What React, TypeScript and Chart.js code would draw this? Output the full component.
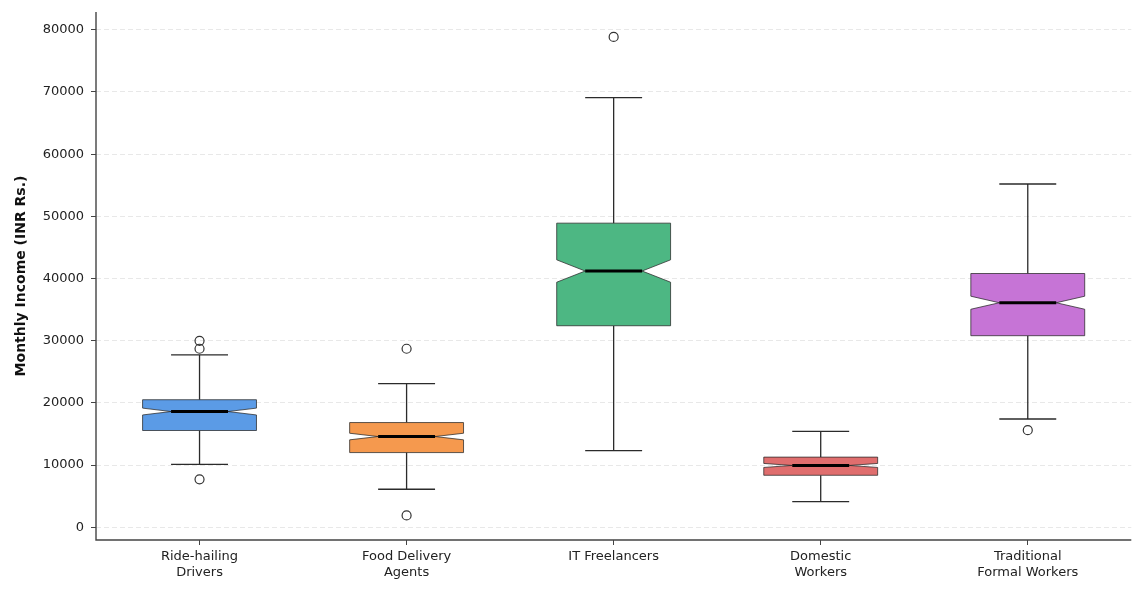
import React, { useEffect, useRef } from 'react';
import { Chart, registerables } from 'chart.js';
Chart.register(...registerables);

const categoryLines: string[][] = [
  ['Ride-hailing', 'Drivers'],
  ['Food Delivery', 'Agents'],
  ['IT Freelancers'],
  ['Domestic', 'Workers'],
  ['Traditional', 'Formal Workers'],
];
const categoryKeys = ['Ride-hailing Drivers', 'Food Delivery Agents', 'IT Freelancers', 'Domestic Workers', 'Traditional Formal Workers'];
const whiskerLow = [10100, 6100, 12300, 4100, 17400];
const q1 = [15550, 12000, 32400, 8350, 30800];
const median = [18600, 14580, 41200, 9930, 36100];
const q3 = [20500, 16830, 48900, 11270, 40800];
const whiskerHigh = [27700, 23100, 69100, 15400, 55200];
const notchLow = [18050, 14050, 39400, 9610, 35050];
const notchHigh = [19150, 15110, 43000, 10250, 37150];
const boxColors = ['#5B9BE6', '#F5994E', '#4DB783', '#E06E6E', '#C674D6'];
const outlierCategory = [0, 0, 0, 1, 1, 2, 4];
const outlierValue = [29970, 28700, 7700, 28700, 1900, 78850, 15600];
const yTicks = [0, 10000, 20000, 30000, 40000, 50000, 60000, 70000, 80000];
const yMin = -2060;
const yMax = 82860;
const boxWidthFraction = 0.55;

const boxPlugin = {
  id: 'notchedBoxes',
  beforeDatasetsDraw(chart: any) {
    const ctx = chart.ctx;
    const xs = chart.scales.x;
    const ys = chart.scales.y;
    const step = xs.getPixelForValue(1) - xs.getPixelForValue(0);
    const hw = (step * boxWidthFraction) / 2;
    const nw = hw / 2;
    ctx.save();
    for (let i = 0; i < categoryKeys.length; i++) {
      const x = xs.getPixelForValue(i);
      const py = (v: number) => ys.getPixelForValue(v);
      ctx.strokeStyle = '#2b2b2b';
      ctx.lineWidth = 1.3;
      ctx.beginPath();
      ctx.moveTo(x, py(q1[i]));
      ctx.lineTo(x, py(whiskerLow[i]));
      ctx.moveTo(x, py(q3[i]));
      ctx.lineTo(x, py(whiskerHigh[i]));
      ctx.moveTo(x - hw / 2, py(whiskerLow[i]));
      ctx.lineTo(x + hw / 2, py(whiskerLow[i]));
      ctx.moveTo(x - hw / 2, py(whiskerHigh[i]));
      ctx.lineTo(x + hw / 2, py(whiskerHigh[i]));
      ctx.stroke();
      const l = x - hw;
      const r = x + hw;
      ctx.beginPath();
      ctx.moveTo(l, py(q1[i]));
      ctx.lineTo(r, py(q1[i]));
      ctx.lineTo(r, py(notchLow[i]));
      ctx.lineTo(x + nw, py(median[i]));
      ctx.lineTo(r, py(notchHigh[i]));
      ctx.lineTo(r, py(q3[i]));
      ctx.lineTo(l, py(q3[i]));
      ctx.lineTo(l, py(notchHigh[i]));
      ctx.lineTo(x - nw, py(median[i]));
      ctx.lineTo(l, py(notchLow[i]));
      ctx.closePath();
      ctx.fillStyle = boxColors[i];
      ctx.fill();
      ctx.strokeStyle = 'rgba(40,40,40,0.75)';
      ctx.lineWidth = 1;
      ctx.stroke();
      ctx.strokeStyle = '#000';
      ctx.lineWidth = 3;
      ctx.beginPath();
      ctx.moveTo(x - nw, py(median[i]));
      ctx.lineTo(x + nw, py(median[i]));
      ctx.stroke();
    }
    ctx.restore();
  },
  afterDraw(chart: any) {
    const ctx = chart.ctx;
    const a = chart.chartArea;
    ctx.save();
    ctx.strokeStyle = '#444';
    ctx.lineWidth = 1.4;
    ctx.beginPath();
    ctx.moveTo(a.left, a.top);
    ctx.lineTo(a.left, a.bottom);
    ctx.lineTo(a.right, a.bottom);
    ctx.stroke();
    ctx.restore();
  },
};

export default function App() {
  const ref = useRef<HTMLCanvasElement>(null);
  useEffect(() => {
    if (!ref.current) return;
    const chart = new Chart(ref.current, {
      type: 'scatter',
      data: {
        labels: categoryKeys,
        datasets: [
          {
            data: outlierCategory.map((c, k) => ({ x: categoryKeys[c], y: outlierValue[k] })),
            pointRadius: 4.5,
            pointHoverRadius: 4.5,
            pointBorderWidth: 1.2,
            pointBorderColor: '#333',
            pointBackgroundColor: 'rgba(0,0,0,0)',
          } as any,
        ],
      },
      options: {
        animation: false,
        responsive: false,
        maintainAspectRatio: false,
        layout: { padding: { top: 12, right: 4, left: 0, bottom: 0 } },
        plugins: { legend: { display: false }, tooltip: { enabled: false } },
        scales: {
          x: {
            type: 'category',
            labels: categoryKeys,
            offset: true,
            grid: {
              display: true,
              drawOnChartArea: false,
              tickLength: 5,
              tickColor: '#444',
              offset: false,
            },
            border: { display: false },
            ticks: {
              color: '#222',
              padding: 4,
              maxRotation: 0,
              autoSkip: false,
              font: { family: 'DejaVu Sans', size: 13 },
              callback: (_v: any, i: number) => categoryLines[i],
            },
            afterFit: (s: any) => {
              s.height = 50;
            },
          } as any,
          y: {
            type: 'linear',
            min: yMin,
            max: yMax,
            afterBuildTicks: (s: any) => {
              s.ticks = yTicks.map((v) => ({ value: v }));
            },
            grid: {
              color: 'rgba(0,0,0,0.09)',
              tickColor: '#444',
              tickLength: 5,
              lineWidth: 1,
            },
            border: { display: false, dash: [5, 3] },
            ticks: {
              color: '#222',
              padding: 7,
              font: { family: 'DejaVu Sans', size: 13 },
              callback: (v: any) => String(v),
            },
            title: {
              display: true,
              text: 'Monthly Income (INR Rs.)',
              color: '#111',
              font: { family: 'DejaVu Sans', size: 14, weight: 'bold' },
              padding: { top: 13, bottom: 0 },
            },
            afterFit: (s: any) => {
              s.width = 96;
              s.paddingTop = 0;
              s.paddingBottom = 0;
            },
          } as any,
        },
      },
      plugins: [boxPlugin],
    });
    return () => chart.destroy();
  }, []);
  return (
    <div style={{ position: 'fixed', left: 0, top: 0, width: 1137, height: 590, background: '#fff' }}>
      <canvas ref={ref} width={1137} height={590} style={{ width: 1137, height: 590 }} />
    </div>
  );
}
